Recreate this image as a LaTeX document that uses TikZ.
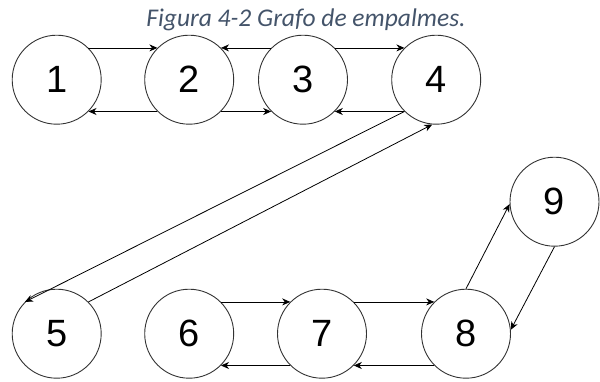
\documentclass[tikz,border=0pt]{standalone}
\usepackage{fontspec}
\setmainfont{Liberation Sans}
\newfontfamily\captionfont{Carlito}
\usetikzlibrary{arrows.meta}
\tikzset{>={Stealth[length=8pt,width=7pt,inset=2.5pt]}}
\colorlet{background}{white}
\colorlet{penColor}{black!80}
\definecolor{captionColor}{HTML}{44546A}
\tikzset{vertex/.style={circle,draw=penColor,line width=0.9pt,minimum size=89pt,inner sep=0pt,font=\fontsize{38}{38}\selectfont}}
\tikzset{link/.style={->,line width=0.8pt,black}}

\begin{document}
\begin{tikzpicture}[x=1pt,y=-1pt]
		\useasboundingbox (0,0) rectangle (600,381);
		\node[anchor=base,text=captionColor,font=\captionfont\itshape\fontsize{25.5}{25.5}\selectfont] (title) at (306,26.7) {Figura 4-2 Grafo de empalmes.};
		
		\node[vertex] (n1) at (56.7,79.7) {1};
		\node[vertex] (n2) at (189.2,79.7) {2};
		\node[vertex] (n3) at (303,79.7) {3};
		\node[vertex] (n4) at (436.2,79.7) {4};
		\node[vertex] (n5) at (56.7,333.7) {5};
		\node[vertex] (n6) at (189.2,333.7) {6};
		\node[vertex] (n7) at (322,333.7) {7};
		\node[vertex] (n8) at (466,333.7) {8};
		\node[vertex] (n9) at (554.5,201.7) {9};
		
		\draw[link] (n1.45) -- (n2.135);
		\draw[link] (n2.225) -- (n1.-45);
		\draw[link] (n3.135) -- (n2.45);
		\draw[link] (n2.-45) -- (n3.225);
		\draw[link] (n3.45) -- (n4.135);
		\draw[link] (n4.225) -- (n3.-45);
		
		\draw[link] (n4.225) -- (n5.135);% long diagonals
		\draw[link] (n5.45) -- (n4.265);
		
		\draw[link] (n6.45) -- (n7.135);
		\draw[link] (n7.225) -- (n6.-45);
		\draw[link] (n7.45) -- (n8.135);
		\draw[link] (n8.225) -- (n7.-45);
		
		\draw[link] (n8.90) -- (n9.183);
		\draw[link] (n9.270) -- (n8.5);
		
\end{tikzpicture}
\end{document}
